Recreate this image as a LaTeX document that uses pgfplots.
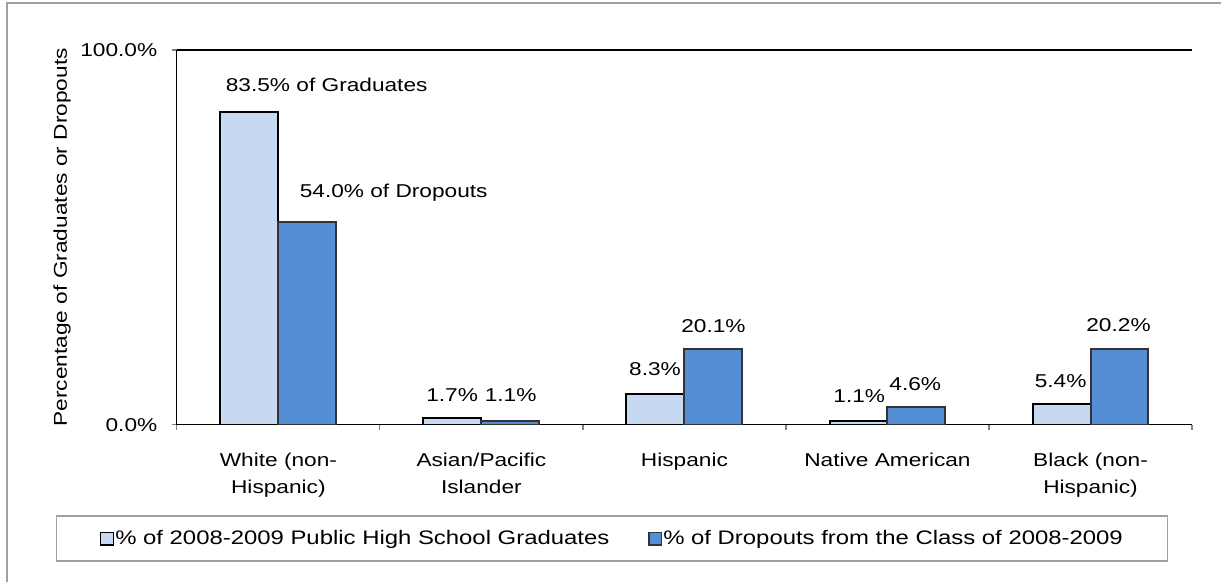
\documentclass[border=0pt]{standalone}
\usepackage{pgfplots}
\pgfplotsset{compat=1.18}
\usepackage{fontspec}
\setmainfont{Liberation Sans}[FakeStretch=1.22]

\definecolor{gradfill}{HTML}{C6D9F1}
\definecolor{dropfill}{HTML}{558ED5}
\definecolor{framegray}{HTML}{A0A0A0}
\definecolor{tickgray}{HTML}{808080}

\begin{document}
\fontsize{9.3}{13.5}\selectfont
\begin{tikzpicture}
% page frame (1px = 0.5pt)
\path (0,0) rectangle (611pt,-291pt);
\draw[framegray, line width=1pt] (3.5pt,-291pt) -- (3.5pt,-1.5pt) -- (611pt,-1.5pt);

\begin{axis}[
    at={(88.5pt,-212.5pt)}, anchor=south west,
    scale only axis, width=508pt, height=187.5pt,
    ybar=0pt, bar width=29pt,
    xmin=-0.5, xmax=4.5, ymin=0, ymax=100,
    axis x line*=bottom, axis y line*=left,
    axis line style={black, line width=0.6pt},
    tick align=outside,
    xtick={0,...,4},
    xticklabels={{White (non-\\Hispanic)},{Asian/Pacific\\Islander},Hispanic,Native American,{Black (non-\\Hispanic)}},
    xticklabel style={align=center, yshift=-8.5pt},
    major x tick style={draw=none},
    minor xtick={-0.5,0.5,...,4.5},
    minor x tick style={tickgray, line width=0.6pt},
    minor tick length=2.5pt,
    ytick={0,100}, yticklabels={0.0\%,100.0\%},
    y tick style={tickgray, line width=0.6pt},
    major tick length=2.5pt,
    yticklabel style={xshift=-4pt},
    ymajorgrids, grid style={black, line width=0.6pt},
    ylabel={Percentage of Graduates or Dropouts},
    every axis y label/.style={at={(axis description cs:-0.113,0.5)}, rotate=90, anchor=center},
    legend columns=2,
    legend image code/.code={\draw[#1, line width=0.6pt] (0pt,-3.2pt) rectangle (6.4pt,3.2pt);},
    legend style={at={(axis description cs:0.4287,-0.304)}, anchor=center,
        draw=framegray, line width=0.6pt, inner xsep=22pt, inner ysep=5pt,
        font=\fontsize{9.8}{12}\selectfont,
        nodes={inner xsep=0.5pt},
        /tikz/every even column/.append style={column sep=19pt}},
]
\addplot[fill=gradfill, draw=black, line width=1pt]
    coordinates {(0,83.5) (1,1.7) (2,8.3) (3,1.1) (4,5.4)};
\addplot[fill=dropfill, draw=black!80, line width=1pt]
    coordinates {(0,54.0) (1,1.1) (2,20.1) (3,4.6) (4,20.2)};
\legend{\% of 2008-2009 Public High School Graduates, \% of Dropouts from the Class of 2008-2009}

\node at (axis cs:0.238,90.7) {83.5\% of Graduates};
\node at (axis cs:0.568,61.9) {54.0\% of Dropouts};
\node at (axis cs:0.856,8.0) {1.7\%};
\node at (axis cs:1.144,8.0) {1.1\%};
\node at (axis cs:1.855,14.7) {8.3\%};
\node at (axis cs:2.143,26.4) {20.1\%};
\node at (axis cs:2.861,7.5) {1.1\%};
\node at (axis cs:3.137,10.7) {4.6\%};
\node at (axis cs:3.853,11.7) {5.4\%};
\node at (axis cs:4.138,26.7) {20.2\%};
\end{axis}
\end{tikzpicture}
\end{document}
